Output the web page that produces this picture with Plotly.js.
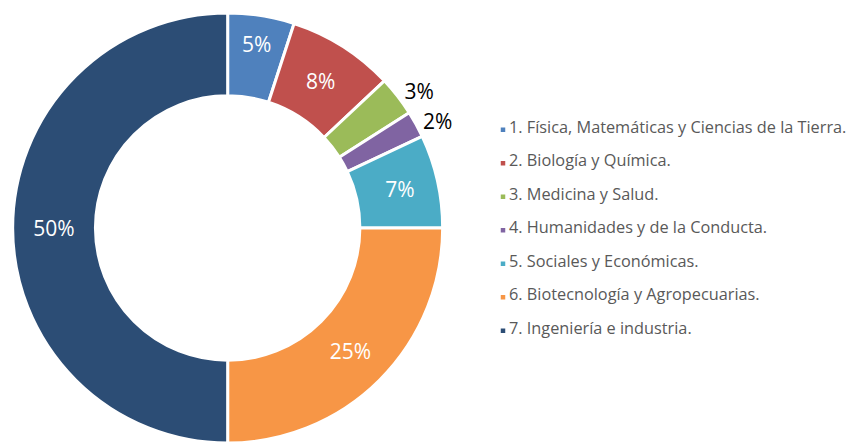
<!DOCTYPE html>
<html>
<head>
<meta charset="utf-8">
<script src="https://cdn.plot.ly/plotly-3.0.1.min.js"></script>
<style>
html,body{margin:0;padding:0;background:#fff;}
#chart{width:852px;height:443px;}
</style>
</head>
<body>
<div id="chart"></div>
<script>
var categories = [
  "1. Física, Matemáticas y Ciencias de la Tierra.",
  "2. Biología y Química.",
  "3. Medicina y Salud.",
  "4. Humanidades y de la Conducta.",
  "5. Sociales y Económicas.",
  "6. Biotecnología y Agropecuarias.",
  "7. Ingeniería e industria."
];
var percentages = [5, 8, 3, 2, 7, 25, 50];
var colors = ["#4F81BD", "#C0504D", "#9BBB59", "#8064A2", "#4BACC6", "#F79646", "#2C4D75"];
var textPositions = ["inside", "inside", "outside", "outside", "inside", "inside", "inside"];

var legendLabels = categories.map(function (c) {
  return '<br><span style="font-size:16.3px">' + c + '</span><br>';
});

var trace = {
  type: "pie",
  labels: legendLabels,
  values: percentages,
  sort: false,
  direction: "clockwise",
  rotation: 0,
  hole: 0.615,
  marker: { colors: colors, line: { color: "#ffffff", width: 3 } },
  texttemplate: "%{value}%",
  textposition: textPositions,
  insidetextorientation: "horizontal",
  insidetextfont: { color: "#ffffff", size: 21, family: "Open Sans, sans-serif" },
  outsidetextfont: { color: "#000000", size: 21, family: "Open Sans, sans-serif" },
  domain: { x: [0, 458 / 852], y: [0, 1] },
  hoverinfo: "none"
};

var layout = {
  width: 852,
  height: 443,
  margin: { l: 0, r: 0, t: 13, b: 0 },
  paper_bgcolor: "#ffffff",
  plot_bgcolor: "#ffffff",
  showlegend: true,
  legend: {
    x: 472 / 852,
    xanchor: "left",
    y: 1 - (108 - 13) / 430,
    yanchor: "top",
    font: { size: 7.82, color: "#595959", family: "Open Sans, sans-serif" },
    bgcolor: "rgba(0,0,0,0)",
    borderwidth: 0
  }
};

Plotly.newPlot("chart", [trace], layout, { displayModeBar: false, staticPlot: true }).then(function (gd) {
  // smaller legend swatches, as in the reference
  gd.querySelectorAll(".legend .legendpie").forEach(function (p) {
    var t = p.getAttribute("transform") || "";
    p.setAttribute("transform", t + " translate(14,0) scale(0.5)");
  });
});
</script>
</body>
</html>
